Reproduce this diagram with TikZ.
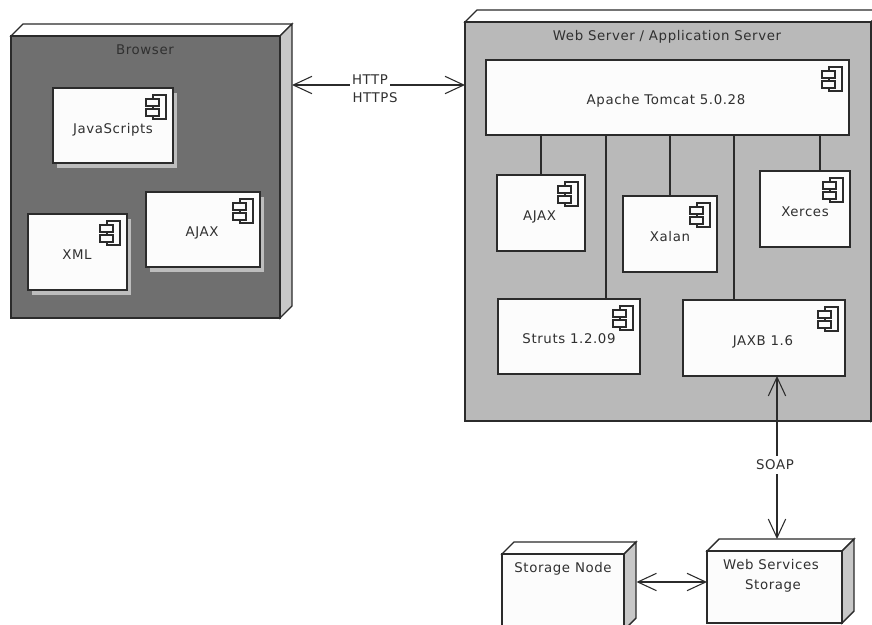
\documentclass[tikz,border=0pt]{standalone}
\usepackage{fontspec}
\setmainfont[LetterSpace=4.5]{DejaVu Sans}
\usetikzlibrary{arrows.meta}
\definecolor{ink}{HTML}{2B2B2B}
\definecolor{txt}{HTML}{303030}
\definecolor{darkfill}{HTML}{6F6F6F}
\definecolor{midfill}{HTML}{B9B9B9}
\definecolor{sidefill}{HTML}{C8C8C8}
\definecolor{shadowfill}{HTML}{BDBDBD}
\definecolor{paper}{HTML}{FCFCFC}
\tikzset{
  x=0.75pt,y=-0.75pt,
  line/.style={draw=ink,line width=1.05pt},
  boxfront/.style={line,rectangle,inner sep=0pt,outer sep=0pt},
  lab/.style={text=txt,font=\fontsize{10pt}{11pt}\selectfont,inner sep=0pt,text height=7.3pt,text depth=0pt},
  gaplab/.style={lab,fill=white,inner xsep=1.5pt,inner ysep=3pt},
  open/.style={line,{Straight Barb[length=14pt,width=13pt,line width=0.8pt]}-{Straight Barb[length=14pt,width=13pt,line width=0.8pt]}},
}
% name, x1, y1, x2, y2, depth, front colour
\newcommand{\threed}[7]{%
  \filldraw[line,fill=white] (#2,#3) -- ({#2+#6},{#3-#6}) -- ({#4+#6},{#3-#6}) -- (#4,#3) -- cycle;
  \filldraw[line,fill=sidefill] (#4,#3) -- ({#4+#6},{#3-#6}) -- ({#4+#6},{#5-#6}) -- (#4,#5) -- cycle;
  \node[boxfront,fill=#7,minimum width={(#4-#2)*0.75pt},minimum height={(#5-#3)*0.75pt}] (#1) at ({(#2+#4)/2},{(#3+#5)/2}) {};
}
% name, x1, y1, x2, y2
\newcommand{\comp}[5]{%
  \node[boxfront,fill=paper,minimum width={(#4-#2)*0.75pt},minimum height={(#5-#3)*0.75pt}] (#1) at ({(#2+#4)/2},{(#3+#5)/2}) {};
  \begin{scope}[shift={(#1.north east)}]
    \draw[line,line width=0.85pt] (-20,7) rectangle (-7,31);
    \filldraw[line,line width=0.85pt,fill=paper] (-27,11) rectangle (-14,18);
    \filldraw[line,line width=0.85pt,fill=paper] (-27,21) rectangle (-14,28);
  \end{scope}
}
\newcommand{\dropshd}[4]{\fill[shadowfill] ({#1+4},{#2+5}) rectangle ({#3+4},{#4+5});}
\begin{document}
\begin{tikzpicture}
\clip (0,0) rectangle (872,625);
\fill[white] (0,0) rectangle (872,625);

% Browser
\threed{browser}{11}{36}{280}{318}{12}{darkfill}
\node[lab] (browserl) at (145,50) {Browser};
\dropshd{53}{88}{173}{163}
\comp{jsbox}{53}{88}{173}{163}
\node[lab] (jsl) at (113,129) {JavaScripts};
\dropshd{28}{214}{127}{290}
\comp{xmlbox}{28}{214}{127}{290}
\node[lab] (xmll) at (77,255) {XML};
\dropshd{146}{192}{260}{267}
\comp{ajaxa}{146}{192}{260}{267}
\node[lab] (ajaxal) at (202,232) {AJAX};

% Server
\threed{server}{465}{22}{871}{421}{12}{midfill}
\node[lab] (serverl) at (667,36) {Web Server / Application Server};
\comp{tomcat}{486}{60}{849}{135}
\node[lab] (tomcatl) at (666,100) {Apache Tomcat 5.0.28};
\comp{ajaxb}{497}{175}{585}{251}
\node[lab] (ajaxbl) at (539.5,216) {AJAX};
\comp{xalan}{623}{196}{717}{272}
\node[lab] (xalanl) at (670,237) {Xalan};
\comp{xerces}{760}{171}{850}{247}
\node[lab] (xercesl) at (805,212) {Xerces};
\comp{struts}{498}{299}{640}{374}
\node[lab] (strutsl) at (569,339) {Struts 1.2.09};
\comp{jaxb}{683}{300}{845}{376}
\node[lab] (jaxbl) at (763,341) {JAXB 1.6};

% Storage
\threed{snode}{502}{554}{624}{630}{12}{paper}
\node[lab] (snodel) at (563,568) {Storage Node};
\threed{wss}{707}{551}{842}{623}{12}{paper}
\node[lab] (wssa) at (771,565) {Web Services};
\node[lab] (wssb) at (773,585) {Storage};

% Connector columns
\coordinate (c1) at (541,0);
\coordinate (c2) at (606,0);
\coordinate (c3) at (670,0);
\coordinate (c4) at (734,0);
\coordinate (c5) at (820,0);
\coordinate (c6) at (777,0);
\coordinate (r1) at (0,85);
\coordinate (r2) at (0,582);
\coordinate (bedge) at (292,0);
\coordinate (sedge) at (636.5,0);
\coordinate (wedge) at (0,539);

\draw[line] (c1 |- tomcat.south) -- (c1 |- ajaxb.north);
\draw[line] (c2 |- tomcat.south) -- (c2 |- struts.north);
\draw[line] (c3 |- tomcat.south) -- (c3 |- xalan.north);
\draw[line] (c4 |- tomcat.south) -- (c4 |- jaxb.north);
\draw[line] (c5 |- tomcat.south) -- (c5 |- xerces.north);

\draw[open] (bedge |- r1) -- (server.west |- r1);
\draw[open] (c6 |- jaxb.south) -- (c6 |- wedge);
\draw[open] (sedge |- r2) -- (wss.west |- r2);

\node[gaplab] (http) at (370,80) {HTTP};
\node[lab] (https) at (375,98) {HTTPS};
\node[gaplab] (soap) at (775,465) {SOAP};
\end{tikzpicture}
\end{document}
